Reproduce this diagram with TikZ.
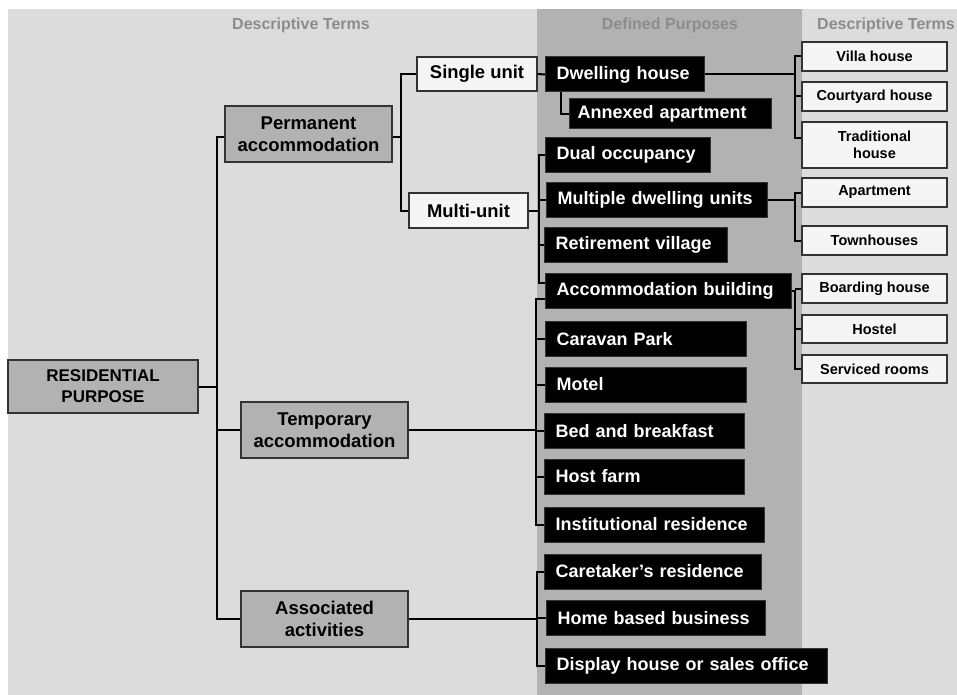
\documentclass[tikz,border=0pt]{standalone}
\usepackage{fontspec}
\setmainfont{Liberation Sans}
\definecolor{bgl}{HTML}{DCDCDC}
\definecolor{bgd}{HTML}{B2B2B2}
\definecolor{gfill}{HTML}{B2B2B2}
\definecolor{wfill}{HTML}{F5F5F5}
\definecolor{headc}{HTML}{8C8C8C}
\definecolor{bord}{HTML}{333333}
\begin{document}
\begin{tikzpicture}[x=1pt,y=-1pt,
  conn/.style={line width=2pt, black},
  blk/.style={fill=black, draw=bord, line width=1pt, text=white,
    font=\bfseries\fontsize{18}{21}\selectfont, inner xsep=11pt, inner ysep=0pt,
    minimum height=35pt, align=left, anchor=west},
  gbox/.style={fill=gfill, draw=bord, line width=1.2pt,
    font=\bfseries\fontsize{18.5}{22}\selectfont, align=center, inner sep=0pt,
    minimum width=167pt, minimum height=56pt},
  mbox/.style={fill=wfill, draw=bord, line width=1.2pt,
    font=\bfseries\fontsize{18.4}{21}\selectfont, inner sep=0pt, minimum height=35pt},
  rbox/.style={fill=wfill, draw=bord, line width=1.2pt,
    font=\bfseries\fontsize{14.5}{17}\selectfont, align=center, inner sep=0pt,
    minimum width=145pt, minimum height=29pt},
  head/.style={text=headc, font=\bfseries\fontsize{16}{18}\selectfont}]
\useasboundingbox (0,0) rectangle (957,695);
\fill[white] (0,0) rectangle (957,695);
\fill[bgl] (8,9) rectangle (957,695);
\fill[bgd] (537,9) rectangle (802,695);

% headings
\node[head] (h1) at (301,25) {Descriptive Terms};
\node[head] (h2) at (670,25) {Defined Purposes};
\node[head] (h3) at (886,25) {Descriptive Terms};

% gray boxes
\node[gbox, minimum width=190pt, minimum height=53pt, font=\bfseries\fontsize{17}{21}\selectfont] (rp) at (103,386.5) {RESIDENTIAL\\PURPOSE};
\node[gbox] (perm) at (308.5,134) {Permanent\\accommodation};
\node[gbox] (temp) at (324.5,430) {Temporary\\accommodation};
\node[gbox] (assoc) at (324.5,619) {Associated\\activities};

% middle white boxes
\node[mbox, minimum width=120pt, minimum height=34pt] (single) at (477,74) {Single unit};
\node[mbox, minimum width=119pt] (multi) at (468.5,210.5) {Multi-unit};

% black boxes
\node[blk, text width=137pt] (dwell) at (545,74.5) {Dwelling house};
\node[blk, text width=186pt, inner xsep=8pt, minimum height=30pt] (annex) at (569,114) {Annexed apartment};
\node[blk, text width=143pt] (dual) at (545,155) {Dual occupancy};
\node[blk, text width=199pt] (mdu) at (546,200) {Multiple dwelling units};
\node[blk, text width=161pt] (retire) at (544,244.5) {Retirement village};
\node[blk, text width=224pt] (accb) at (545,290.5) {Accommodation building};
\node[blk, text width=179pt] (caravan) at (545,339) {Caravan Park};
\node[blk, text width=179pt] (motel) at (545,384.5) {Motel};
\node[blk, text width=178pt] (bnb) at (544,431) {Bed and breakfast};
\node[blk, text width=178pt] (host) at (544,476.5) {Host farm};
\node[blk, text width=198pt] (inst) at (544,524.5) {Institutional residence};
\node[blk, text width=195pt] (care) at (544,571.5) {Caretaker’s residence};
\node[blk, text width=197pt] (home) at (546,618) {Home based business};
\node[blk, text width=260pt] (disp) at (545,666) {Display house or sales office};

% right white boxes
\node[rbox] (villa) at (874.5,56.5) {Villa house};
\node[rbox] (court) at (874.5,96.5) {Courtyard house};
\node[rbox, minimum height=46pt] (trad) at (874.5,145) {Traditional\\house};
\node[rbox] (apt) at (874.5,192.5) {Apartment};
\node[rbox] (town) at (874.5,240.5) {Townhouses};
\node[rbox] (board) at (874.5,288.5) {Boarding house};
\node[rbox, minimum height=28pt] (hostel) at (874.5,329) {Hostel};
\node[rbox, minimum height=28pt] (serv) at (874.5,369) {Serviced rooms};

% junction coordinates
\coordinate (xA) at (217,0);
\coordinate (xB) at (401,0);
\coordinate (xC) at (539,0);
\coordinate (xD) at (536,0);
\coordinate (xE) at (537,0);
\coordinate (xF) at (795,0);
\coordinate (accbU) at ([yshift=8pt]accb.west);
\coordinate (accbL) at ([yshift=-8pt]accb.west);
\coordinate (tradU) at ([yshift=7pt]trad.west);
\coordinate (permL) at ([yshift=-3pt]perm.west);
\coordinate (permR) at ([yshift=-3pt]perm.east);

% connectors
\draw[conn] (rp.east) -- (rp.east -| xA);
\draw[conn] (permL) -| (xA |- assoc.west) -- (assoc.west);
\draw[conn] (temp.west) -- (temp.west -| xA);

\draw[conn] (permR) -- (permR -| xB);
\draw[conn] (single.west) -| (xB |- multi.west) -- (multi.west);
\draw[conn] (single.east) -- (dwell.west);
\draw[conn] ([xshift=16pt]dwell.south west) |- (annex.west);

\draw[conn] (multi.east) -- (multi.east -| xC);
\draw[conn] (dual.west) -| (xC |- accbU) -- (accbU);
\draw[conn] (mdu.west) -- (mdu.west -| xC);
\draw[conn] (retire.west) -- (retire.west -| xC);

\draw[conn] (temp.east) -- (temp.east -| xD);
\draw[conn] (accbL) -| (xD |- inst.west) -- (inst.west);
\draw[conn] (caravan.west) -- (caravan.west -| xD);
\draw[conn] (motel.west) -- (motel.west -| xD);
\draw[conn] (bnb.west) -- (bnb.west -| xD);
\draw[conn] (host.west) -- (host.west -| xD);

\draw[conn] (assoc.east) -- (assoc.east -| xE);
\draw[conn] (care.west) -| (xE |- disp.west) -- (disp.west);
\draw[conn] (home.west) -- (home.west -| xE);

\draw[conn] (dwell.east) -- (dwell.east -| xF);
\draw[conn] (villa.west) -| (xF |- tradU) -- (tradU);
\draw[conn] (court.west) -- (court.west -| xF);
\draw[conn] (mdu.east) -- (mdu.east -| xF);
\draw[conn] (apt.west) -| (xF |- town.west) -- (town.west);
\draw[conn] (accb.east) -| (xF |- serv.west) -- (serv.west);
\draw[conn] (board.west) -- (board.west -| xF);
\draw[conn] (hostel.west) -- (hostel.west -| xF);
\end{tikzpicture}
\end{document}
